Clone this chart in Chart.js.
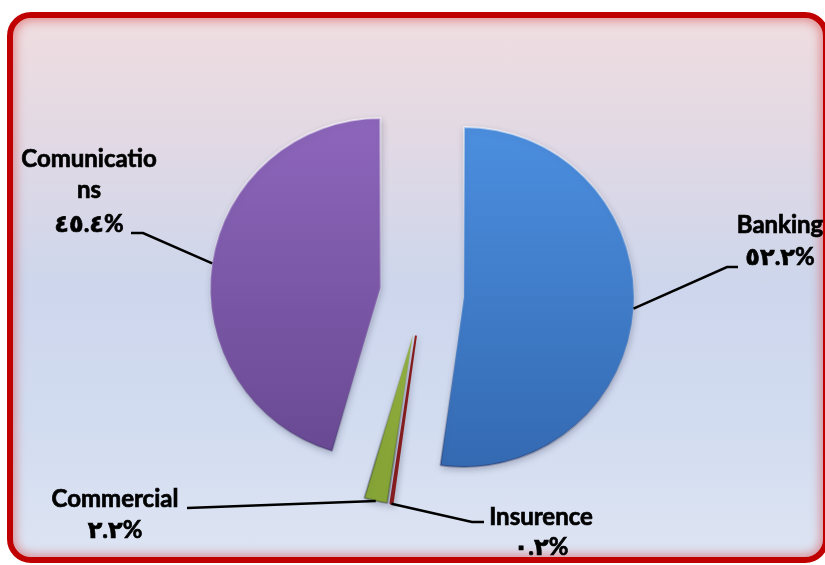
<!DOCTYPE html>
<html>
<head>
<meta charset="utf-8">
<script src="https://cdn.jsdelivr.net/npm/chart.js@4/dist/chart.umd.min.js"></script>
<style>
    html, body { margin: 0; padding: 0; background: #fff; overflow: hidden; }
    #frame {
        position: absolute; left: 7px; top: 12px; width: 822px; height: 551px;
        box-sizing: border-box; border: 6px solid #C00000; border-radius: 24px;
        background: linear-gradient(to bottom, #EFDDE0 0%, #E2D9E4 22%, #CDD6EC 50%, #D2DCF0 75%, #DDE4F3 100%);
        box-shadow: inset 0 0 10px 3px rgba(215, 70, 70, 0.5);
    }
    #pieChart { position: absolute; left: 0; top: 0; }
</style>
</head>
<body>
<div id="frame"></div>
<canvas id="pieChart" width="825" height="565"></canvas>
<script>
// sectors, clockwise from 12 o'clock
const sectors = ['Banking', 'Insurence', 'Commercial', ['Comunicatio', 'ns']];
const shares = [52.2, 0.2, 2.2, 45.4];
const topColors = ['#4C8FE0', '#B02A2E', '#A6C64E', '#8D66BB'];
const bottomColors = ['#346AB2', '#7E1A1E', '#86A536', '#684892'];

const pieRadius = 170;
const explode = 42; // every slice is pulled out this far along its middle angle
const labelFont = "bold 24px Lato, 'DejaVu Sans', sans-serif";

// where each callout's text sits and the elbow of its leader line
const callouts = [
    { x: 780, baselines: [233, 265], path: [[738, 267], [727, 267]] },
    { x: 541, baselines: [525, 555], path: [[484, 522], [472, 522]] },
    { x: 115, baselines: [507, 538], path: [[187, 508]] },
    { x: 89, baselines: [167, 198, 232], path: [[131, 233], [143, 233]] }
];

function toArabicDigits(v) {
    return v.toFixed(1).replace(/\d/g, d => '٠١٢٣٤٥٦٧٨٩'[d]) + '%';
}

function verticalGradient(chart, top, bottom) {
    const area = chart.chartArea;
    if (!area) return top;
    const cy = (area.top + area.bottom) / 2;
    const g = chart.ctx.createLinearGradient(0, cy - pieRadius, 0, cy + pieRadius);
    g.addColorStop(0, top);
    g.addColorStop(1, bottom);
    return g;
}

function bevelGradient(chart) {
    const area = chart.chartArea;
    if (!area) return 'rgba(255,255,255,0.3)';
    const cy = (area.top + area.bottom) / 2;
    const g = chart.ctx.createLinearGradient(0, cy - pieRadius, 0, cy + pieRadius);
    g.addColorStop(0, 'rgba(255,255,255,0.55)');
    g.addColorStop(0.5, 'rgba(255,255,255,0.1)');
    g.addColorStop(1, 'rgba(20,20,60,0.3)');
    return g;
}

// pull each arc away from the centre (keeps the full slice angle and radius)
const explodeSlices = {
    id: 'explodeSlices',
    afterDatasetUpdate(chart, args) {
        args.meta.data.forEach(arc => {
            const mid = (arc.startAngle + arc.endAngle) / 2;
            arc.x += Math.cos(mid) * explode;
            arc.y += Math.sin(mid) * explode;
        });
    }
};

const sliceShadow = {
    id: 'sliceShadow',
    beforeDatasetsDraw(chart) {
        const ctx = chart.ctx;
        ctx.save();
        ctx.shadowColor = 'rgba(30,30,60,0.25)';
        ctx.shadowBlur = 6;
        ctx.shadowOffsetX = 1;
        ctx.shadowOffsetY = 3;
    },
    afterDatasetsDraw(chart) { chart.ctx.restore(); }
};

const calloutLabels = {
    id: 'calloutLabels',
    afterDraw(chart) {
        const ctx = chart.ctx;
        const arcs = chart.getDatasetMeta(0).data;
        ctx.save();
        arcs.forEach((arc, i) => {
            const c = callouts[i];
            const mid = (arc.startAngle + arc.endAngle) / 2;
            const ax = arc.x + Math.cos(mid) * arc.outerRadius;
            const ay = arc.y + Math.sin(mid) * arc.outerRadius;

            ctx.strokeStyle = '#000';
            ctx.lineWidth = 2.5;
            ctx.beginPath();
            ctx.moveTo(c.path[0][0], c.path[0][1]);
            c.path.slice(1).forEach(p => ctx.lineTo(p[0], p[1]));
            ctx.lineTo(ax, ay);
            ctx.stroke();

            const lines = [].concat(sectors[i], toArabicDigits(shares[i]));
            ctx.fillStyle = '#000';
            ctx.lineWidth = 0.7;
            ctx.font = labelFont;
            ctx.textAlign = 'center';
            ctx.textBaseline = 'alphabetic';
            lines.forEach((t, k) => {
                ctx.fillText(t, c.x, c.baselines[k]);
                ctx.strokeText(t, c.x, c.baselines[k]);
            });
        });
        ctx.restore();
    }
};

new Chart(document.getElementById('pieChart'), {
    type: 'pie',
    data: {
        labels: sectors,
        datasets: [{
            data: shares,
            radius: pieRadius,
            backgroundColor: ctx => verticalGradient(ctx.chart, topColors[ctx.dataIndex], bottomColors[ctx.dataIndex]),
            borderColor: ctx => ctx.dataIndex === 1 ? '#8B1C1C' : bevelGradient(ctx.chart),
            borderWidth: 2
        }]
    },
    options: {
        responsive: false,
        animation: false,
        events: [],
        layout: { padding: { left: 19, right: 0, top: 23, bottom: 0 } },
        plugins: { legend: { display: false }, tooltip: { enabled: false } }
    },
    plugins: [explodeSlices, sliceShadow, calloutLabels]
});
</script>
</body>
</html>
